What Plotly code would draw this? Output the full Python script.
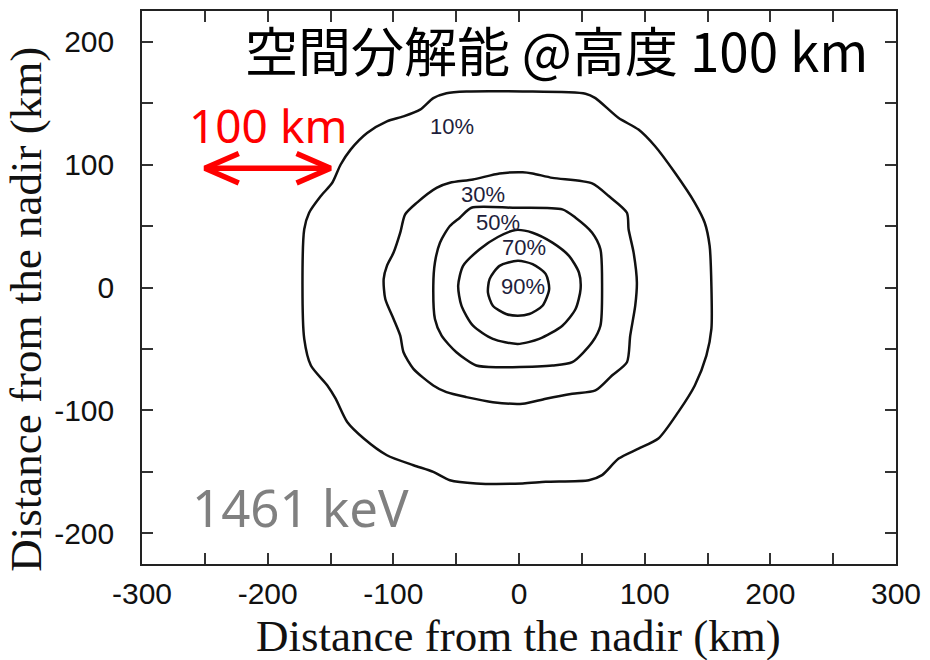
import plotly.graph_objects as go

# Contour levels (fraction of detected counts) and their outlines, in km
LEVELS = ["10%", "30%", "50%", "70%", "90%"]

C10_X = [-41.9, 2.9, 52.9, 60.8, 79.3, 95.1, 108.3, 124.1, 139.9, 147.8, 151.7, 153.1, 153.1,
         149.1, 139.9, 126.7, 110.9, 95.1, 79.3, 66.1, 55.6, 21.3, 2.9, -34.0, -55.0, -68.2,
         -84.0, -105.1, -123.5, -136.7, -145.9, -152.5, -165.6, -170.9, -172.3, -170.9, -167.0,
         -157.7, -148.6, -141.9, -134.0, -120.9, -105.1, -91.9, -78.7, -68.2, -57.7]
C10_Y = [159.5, 159.5, 157.7, 154.1, 137.9, 128.5, 114.9, 93.3, 68.9, 52.7, 33.8, 1.4, -33.7,
         -55.4, -79.7, -101.4, -122.9, -131.1, -139.2, -152.7, -156.8, -158.1, -159.4, -159.4,
         -156.8, -150.0, -144.6, -136.5, -122.9, -109.5, -90.5, -79.7, -63.5, -41.8, 1.4, 47.4,
         60.8, 74.4, 85.2, 100.1, 112.2, 125.7, 135.2, 139.2, 144.7, 154.1, 158.1]

C30_X = [-36.6, -15.5, 2.9, 10.8, 26.6, 58.2, 71.4, 85.9, 87.2, 91.2, 93.8, 92.5, 88.5, 85.9,
         74.0, 60.8, 42.4, 21.3, 2.9, -20.8, -41.9, -57.7, -68.2, -84.0, -91.9, -94.5, -99.8,
         -106.4, -107.7, -105.1, -99.8, -94.5, -90.6, -81.4, -65.6, -55.0]
C30_Y = [87.9, 92.8, 93.8, 92.8, 89.2, 84.7, 74.4, 60.8, 47.4, 28.4, 4.1, -14.8, -39.2, -60.8,
         -71.6, -83.8, -86.5, -90.5, -94.6, -93.3, -89.2, -85.2, -79.7, -66.2, -52.7, -39.2,
         -25.6, -9.4, 6.8, 17.6, 28.4, 44.6, 59.5, 68.9, 81.1, 85.2]

C50_X = [-37.9, -5.0, 34.5, 45.0, 58.2, 64.8, 66.1, 64.8, 58.2, 42.4, 26.6, -5.0, -15.5, -34.0,
         -49.8, -61.6, -66.9, -68.2, -66.9, -62.9, -55.0, -47.1]
C50_Y = [64.9, 64.9, 63.6, 56.8, 44.6, 31.1, 1.4, -31.1, -44.6, -60.8, -63.5, -64.9, -64.9,
         -63.5, -52.7, -39.2, -25.6, 1.4, 20.3, 36.5, 50.0, 56.8]

C70_X = [-2.6, 10.8, 26.6, 39.8, 47.7, 49.0, 45.0, 34.5, 16.1, -1.0, -20.8, -36.6, -45.8,
         -48.4, -44.5, -31.3, -16.8]
C70_Y = [46.8, 44.6, 36.5, 25.7, 12.2, -1.3, -17.5, -31.1, -41.8, -45.9, -41.8, -31.1, -14.8,
         1.4, 17.6, 31.1, 41.1]

C90_X = [-1.0, 10.8, 21.3, 24.0, 18.7, 8.2, -1.0, -10.3, -20.8, -24.7, -23.4, -15.5]
C90_Y = [21.7, 19.0, 10.9, -1.3, -14.8, -21.6, -23.0, -21.6, -14.8, -4.1, 6.8, 17.6]

CONTOURS_X = [C10_X, C30_X, C50_X, C70_X, C90_X]
CONTOURS_Y = [C10_Y, C30_Y, C50_Y, C70_Y, C90_Y]

# Level label anchor points (km)
LABEL_X = [-53.2, -28.7, -16.8, 3.7, 2.9]
LABEL_Y = [131.1, 76.0, 53.3, 32.2, 0.6]

# Scale bar: 100 km
SCALE_BAR_X = [-250, -150]
SCALE_BAR_Y = 97

# Axis ticks
X_TICKS = list(range(-300, 301, 50))
Y_TICKS = list(range(-200, 201, 50))
X_TICK_TEXT = [str(v) if v % 100 == 0 else "" for v in X_TICKS]
Y_TICK_TEXT = [str(v) if v % 100 == 0 else "" for v in Y_TICKS]

fig = go.Figure()

for xs, ys in zip(CONTOURS_X, CONTOURS_Y):
    fig.add_trace(go.Scatter(
        x=xs + xs[:1], y=ys + ys[:1], mode="lines",
        line=dict(color="#111111", width=2.5, shape="spline", smoothing=0.7),
        hoverinfo="skip", showlegend=False,
    ))

for lab, lx, ly in zip(LEVELS, LABEL_X, LABEL_Y):
    fig.add_annotation(x=lx, y=ly, text=lab, showarrow=False,
                       font=dict(family="Liberation Sans, Arial", size=22, color="#1e1e3c"),
                       xanchor="center", yanchor="middle")

# Double-headed red arrow for the scale bar
hx, hy = 27.0, 12.0
x0, x1 = SCALE_BAR_X
ax = [x0 + hx, x0, x0 + hx, None, x0, x1, None, x1 - hx, x1, x1 - hx]
ay = [SCALE_BAR_Y + hy, SCALE_BAR_Y, SCALE_BAR_Y - hy, None, SCALE_BAR_Y, SCALE_BAR_Y, None,
      SCALE_BAR_Y + hy, SCALE_BAR_Y, SCALE_BAR_Y - hy]
fig.add_trace(go.Scatter(x=ax, y=ay, mode="lines", line=dict(color="#ff0000", width=5.5),
                         hoverinfo="skip", showlegend=False))

fig.add_annotation(x=(x0 + x1) / 2 + 0.2, y=132, text="100 km", showarrow=False,
                   font=dict(family="Comic Sans MS, Noto Sans", size=46, color="#ff0000"),
                   xanchor="center", yanchor="middle")

fig.add_annotation(x=30, y=194, text="空間分解能 @高度 100 km", showarrow=False,
                   font=dict(family="Comic Sans MS, Noto Sans CJK JP", size=53, color="#000000"),
                   xanchor="center", yanchor="middle")

fig.add_annotation(x=-173.7, y=-178.7, text="1461 keV", showarrow=False,
                   font=dict(family="Comic Sans MS, Noto Sans", size=51, color="#808080"),
                   xanchor="center", yanchor="middle")

# Axis titles
fig.add_annotation(xref="paper", yref="paper", x=0.4995, y=-0.131,
                   text="Distance from the nadir (km)", showarrow=False,
                   font=dict(family="Liberation Serif, Times New Roman", size=45, color="#111111"),
                   xanchor="center", yanchor="middle")
fig.add_annotation(xref="paper", yref="paper", x=-0.154, y=0.4615, textangle=-90,
                   text="Distance from the nadir (km)", showarrow=False,
                   font=dict(family="Liberation Serif, Times New Roman", size=45, color="#111111"),
                   xanchor="center", yanchor="middle")

axis_common = dict(
    showgrid=False, zeroline=False, showline=True, linecolor="#222222", linewidth=1.6,
    mirror="ticks", ticks="inside", ticklen=11, tickwidth=1.5, tickcolor="#333333",
    tickfont=dict(family="Liberation Sans, Arial", size=30, color="#111111"),
    tickmode="array",
)

fig.update_xaxes(range=[-300, 300], tickvals=X_TICKS, ticktext=X_TICK_TEXT,
                 ticklabelstandoff=2, **axis_common)
fig.update_yaxes(range=[-225, 225], tickvals=Y_TICKS, ticktext=Y_TICK_TEXT,
                 ticklabelstandoff=20, **axis_common)

fig.update_layout(
    width=930, height=660,
    margin=dict(l=142, r=29, t=9, b=96, pad=0),
    plot_bgcolor="white", paper_bgcolor="white",
    showlegend=False,
)

fig.write_html("out.html")
